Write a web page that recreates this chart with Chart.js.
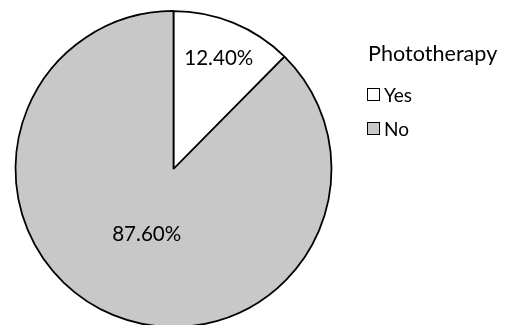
<!DOCTYPE html>
<html>
<head>
<meta charset="utf-8">
<script src="https://cdn.jsdelivr.net/npm/chart.js@4"></script>
<style>
  body { margin: 0; background: #fff; overflow: hidden; }
  #wrap { position: relative; width: 507px; height: 325px; overflow: hidden; }
  #pieChart { position: absolute; left: 0; top: 0; }
  #legend { position: absolute; left: 367px; top: 0; font-family: Lato, sans-serif; color: #000; }
  #legend .title { position: absolute; left: 1px; top: 40px; font-size: 21.6px; line-height: 26px; white-space: nowrap; }
  #legend .item { position: absolute; left: 0; height: 20px; display: flex; align-items: center; font-size: 19px; line-height: 20px; white-space: nowrap; }
  #legend .box { width: 11px; height: 11px; border: 1.3px solid #000; margin-right: 4px; }
</style>
</head>
<body>
<div id="wrap">
  <canvas id="pieChart" width="507" height="338"></canvas>
  <div id="legend"></div>
</div>
<script>
const legendTitle = 'Phototherapy';
const categories = ['Yes', 'No'];
const percentages = [12.4, 87.6];
const sliceColors = ['#ffffff', '#c8c8c8'];
// how far out from the centre each percentage label sits (fraction of radius)
const labelRadius = [0.755, 0.446];

// percentage labels drawn inside each slice
const sliceLabels = {
    id: 'sliceLabels',
    afterDatasetsDraw(chart) {
        const ctx = chart.ctx;
        const arcs = chart.getDatasetMeta(0).data;
        ctx.save();
        ctx.font = '20.6px Lato, sans-serif';
        ctx.fillStyle = '#000';
        ctx.textAlign = 'center';
        ctx.textBaseline = 'middle';
        arcs.forEach(function(arc, i) {
            const p = arc.getProps(['x', 'y', 'startAngle', 'endAngle', 'outerRadius'], true);
            const mid = (p.startAngle + p.endAngle) / 2;
            const r = p.outerRadius * labelRadius[i];
            const value = chart.data.datasets[0].data[i];
            ctx.fillText(value.toFixed(2) + '%', p.x + Math.cos(mid) * r, p.y + Math.sin(mid) * r);
        });
        ctx.restore();
    }
};

const ctx = document.getElementById('pieChart').getContext('2d');
const pieChart = new Chart(ctx, {
    type: 'pie',
    data: {
        labels: categories,
        datasets: [{
            data: percentages,
            backgroundColor: sliceColors,
            borderColor: '#000',
            borderWidth: 1.75,
            radius: 158
        }]
    },
    options: {
        responsive: false,
        animation: false,
        layout: { padding: { right: 160 } },
        plugins: {
            legend: { display: false },
            tooltip: { enabled: false }
        }
    },
    plugins: [sliceLabels]
});

// legend on the right, built from the same arrays
const legend = document.getElementById('legend');
const title = document.createElement('div');
title.className = 'title';
title.textContent = legendTitle;
legend.appendChild(title);
const rowTops = [84.6, 118.6];
categories.forEach(function(name, i) {
    const row = document.createElement('div');
    row.className = 'item';
    row.style.top = rowTops[i] + 'px';
    const box = document.createElement('span');
    box.className = 'box';
    box.style.background = sliceColors[i];
    const label = document.createElement('span');
    label.textContent = name;
    row.appendChild(box);
    row.appendChild(label);
    legend.appendChild(row);
});
</script>
</body>
</html>
